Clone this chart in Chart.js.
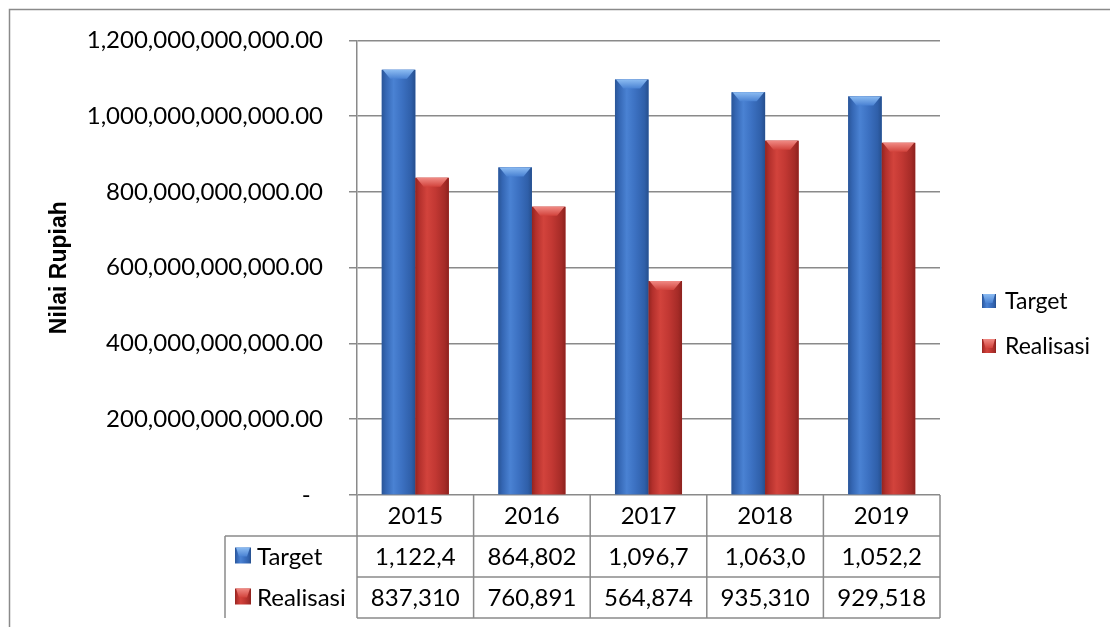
<!DOCTYPE html>
<html>
<head>
<meta charset="utf-8">
<script src="https://cdn.jsdelivr.net/npm/chart.js@4.4.0/dist/chart.umd.min.js"></script>
<style>
  html, body { margin: 0; padding: 0; background: #fff; }
  #wrap { position: relative; width: 1110px; height: 627px; }
</style>
</head>
<body>
<div id="wrap"><canvas id="chart"></canvas></div>
<script>
// data
var years = ['2015', '2016', '2017', '2018', '2019'];
var target = [1122400000000, 864802000000, 1096700000000, 1063000000000, 1052200000000];
var realisasi = [837310000000, 760891000000, 564874000000, 935310000000, 929518000000];
var seriesNames = ['Target', 'Realisasi'];
var yMax = 1200000000000;
var yStep = 200000000000;

var FONT = 'Lato';
var GRID = '#8a8a8a';
var blueStops = [[0, '#2a5597'], [0.12, '#3466b3'], [0.35, '#4a82d3'], [0.6, '#3c71c2'], [0.88, '#2f5fa9'], [1, '#264f8d']];
var redStops = [[0, '#93241f'], [0.12, '#b3302c'], [0.35, '#d2433c'], [0.6, '#c23833'], [0.88, '#a52b27'], [1, '#8c221e']];
var capTop = ['#8cbcf2', '#f08a84'];
var capBot = ['#4a82d3', '#d2433c'];

function fmtNum(v) {
  return v.toLocaleString('en-US');
}

function fillBar(ctx, left, top, w, h, stops, cTop, cBot) {
  var g = ctx.createLinearGradient(left, 0, left + w, 0);
  stops.forEach(function(s) { g.addColorStop(s[0], s[1]); });
  ctx.fillStyle = g;
  ctx.fillRect(left, top, w, h);
  // bevelled top
  var capH = Math.min(9, h);
  var inset = Math.min(9, w / 4);
  var cg = ctx.createLinearGradient(0, top, 0, top + capH);
  cg.addColorStop(0, cTop);
  cg.addColorStop(1, cBot);
  ctx.fillStyle = cg;
  ctx.beginPath();
  ctx.moveTo(left + 1, top);
  ctx.lineTo(left + w - 1, top);
  ctx.lineTo(left + w - inset, top + capH);
  ctx.lineTo(left + inset, top + capH);
  ctx.closePath();
  ctx.fill();
}

var extras = {
  id: 'extras',
  afterDatasetsDraw: function(chart) {
    var ctx = chart.ctx;
    ctx.save();
    chart.data.datasets.forEach(function(ds, d) {
      var meta = chart.getDatasetMeta(d);
      meta.data.forEach(function(bar) {
        var p = bar.getProps(['x', 'y', 'base', 'width'], true);
        fillBar(ctx, p.x - p.width / 2, p.y, p.width, p.base - p.y,
          d === 0 ? blueStops : redStops, capTop[d], capBot[d]);
      });
    });
    ctx.restore();
  },
  afterDraw: function(chart) {
    var ctx = chart.ctx;
    var xs = chart.scales.x;
    var area = chart.chartArea;
    var half = (xs.getPixelForValue(1) - xs.getPixelForValue(0)) / 2;
    var rowH = 41;
    var top = area.bottom;
    var labelLeft = 225;
    ctx.save();

    // outer frame
    ctx.strokeStyle = GRID;
    ctx.lineWidth = 1.5;
    ctx.strokeRect(9.5, 9.5, 1200, 700);

    // data table grid
    ctx.beginPath();
    for (var r = 1; r <= 3; r++) {
      ctx.moveTo(r === 1 ? labelLeft : area.left, top + rowH * r);
      ctx.lineTo(area.right, top + rowH * r);
    }
    ctx.moveTo(labelLeft, top + rowH);
    ctx.lineTo(area.right, top + rowH);
    for (var i = 0; i <= years.length; i++) {
      var bx = i < years.length ? xs.getPixelForValue(i) - half : xs.getPixelForValue(i - 1) + half;
      ctx.moveTo(bx, top);
      ctx.lineTo(bx, top + rowH * 3);
    }
    ctx.moveTo(labelLeft, top + rowH);
    ctx.lineTo(labelLeft, top + rowH * 3);
    ctx.stroke();

    ctx.fillStyle = '#000';
    ctx.textBaseline = 'middle';
    ctx.textAlign = 'center';
    ctx.font = '24px ' + FONT;
    years.forEach(function(y, i) {
      var cx = xs.getPixelForValue(i);
      ctx.fillText(y, cx, top + rowH / 2 + 1);
      ctx.fillText(fmtNum(target[i]).slice(0, 7), cx, top + rowH * 1.5 + 1);
      ctx.fillText(fmtNum(realisasi[i]).slice(0, 7), cx, top + rowH * 2.5 + 1);
    });

    // row headers with keys
    ctx.textAlign = 'left';
    seriesNames.forEach(function(name, k) {
      var cy = top + rowH * (1.5 + k);
      drawKey(ctx, labelLeft + 10, cy - 9, 16, k);
      ctx.fillStyle = '#000';
      ctx.fillText(name, labelLeft + 32, cy + 1);
    });

    // legend
    ctx.font = '23px ' + FONT;
    seriesNames.forEach(function(name, k) {
      var cy = 301 + k * 45;
      drawKey(ctx, 982, cy - 7, 14, k);
      ctx.fillStyle = '#000';
      ctx.fillText(name, 1005, cy + 1);
    });
    ctx.restore();
  }
};

function drawKey(ctx, x, y, s, k) {
  fillBar(ctx, x, y, s, s, k === 0 ? blueStops : redStops, capTop[k], capBot[k]);
}

new Chart(document.getElementById('chart'), {
  type: 'bar',
  data: {
    labels: years,
    datasets: [
      { label: seriesNames[0], data: target, backgroundColor: '#3c71c2', borderWidth: 0 },
      { label: seriesNames[1], data: realisasi, backgroundColor: '#c23833', borderWidth: 0 }
    ]
  },
  options: {
    responsive: true,
    maintainAspectRatio: false,
    animation: false,
    events: [],
    datasets: { bar: { barPercentage: 1, categoryPercentage: 0.575 } },
    layout: { padding: { top: 38, right: 170, bottom: 132, left: 0 } },
    plugins: {
      legend: { display: false },
      tooltip: { enabled: false }
    },
    scales: {
      x: { display: false },
      y: {
        min: 0,
        max: yMax,
        afterFit: function(s) { s.width = 357; },
        ticks: {
          stepSize: yStep,
          padding: 26,
          color: '#000',
          font: { family: FONT, size: 24 },
          callback: function(v) {
            return v === 0 ? '-  ' : v.toLocaleString('en-US', { minimumFractionDigits: 2, maximumFractionDigits: 2 });
          }
        },
        grid: { color: GRID, lineWidth: 1.5, tickLength: 8 },
        border: { color: GRID, width: 1.5 },
        title: {
          display: true,
          text: 'Nilai Rupiah',
          color: '#000',
          font: { family: 'Liberation Sans', size: 23, weight: 'bold' },
          padding: { top: 46, bottom: 0 }
        }
      }
    }
  },
  plugins: [extras]
});
</script>
</body>
</html>
